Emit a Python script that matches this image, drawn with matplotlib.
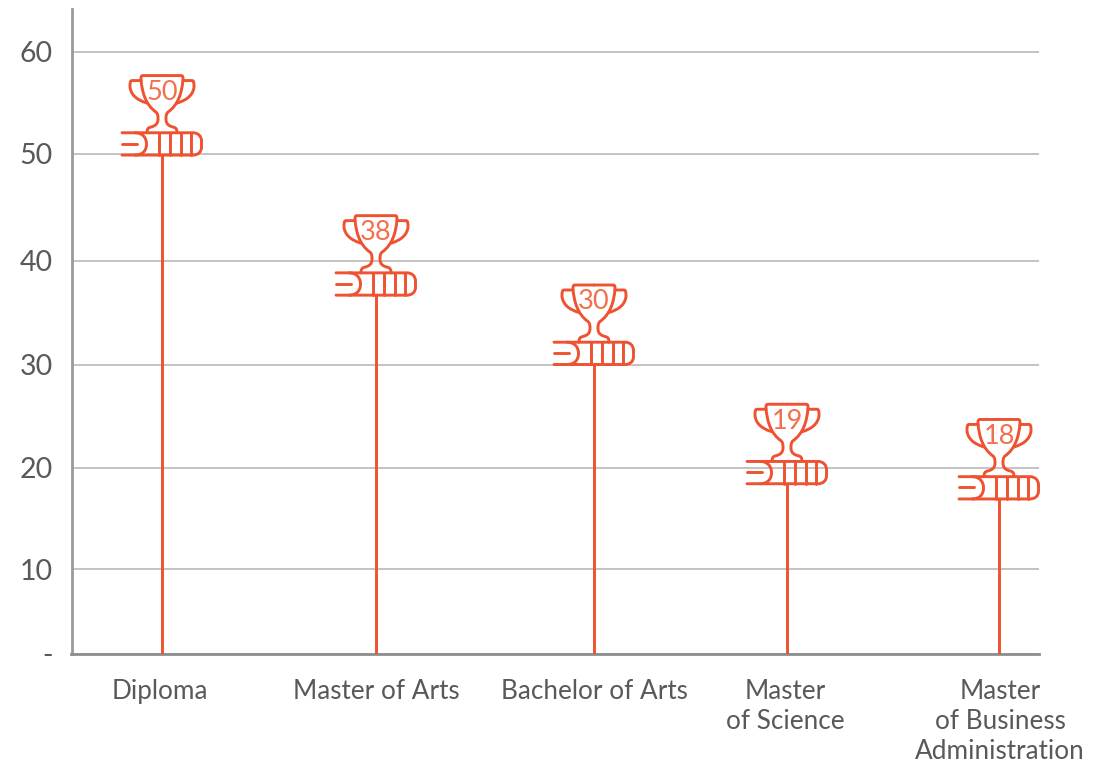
import matplotlib
matplotlib.use("Agg")
import matplotlib.pyplot as plt
from matplotlib.patches import PathPatch
from matplotlib.path import Path
from matplotlib.transforms import Affine2D
import numpy as np

plt.rcParams["font.family"] = ["Lato", "DejaVu Sans"]

categories = ["Diploma", "Master of Arts", "Bachelor of Arts",
              "Master\nof Science", "Master\nof Business\nAdministration"]
trophy_labels = ["50", "38", "30", "19", "18"]
stem_values = [49.9, 36.7, 30.0, 18.4, 16.9]
stem_x = [162, 376, 594, 787, 999]
label_x = [160, 376, 594, 785, 1000]
tick_values = [0, 10, 20, 30, 40, 50, 60]
tick_labels = ["-", "10", "20", "30", "40", "50", "60"]

# the gridlines in the picture are not evenly spaced
scale_values = [0, 10, 20, 30, 40, 50, 60, 64.2]
scale_heights = [0, 85, 186.5, 289.5, 393, 500, 602, 645]

ORANGE = "#ee5230"
TEXT = "#58595b"
W, H = 1106, 763
LEFT, RIGHT, BOTTOM, TOP = 71.5, 1039, 654, 9


def fwd(v):
    return np.interp(v, scale_values, scale_heights)


def inv(h):
    return np.interp(h, scale_heights, scale_values)


def trophy_paths():
    M, L, C = Path.MOVETO, Path.LINETO, Path.CURVE4
    paths = []
    # book, coordinates are pixels from the top of the stem, y down
    paths.append(Path([(-40, -22.3), (31, -22.3), (36, -22.3), (39.5, -19), (39.5, -14),
                       (39.5, -8), (39.5, -3), (36, 0), (31, 0), (-40, 0)],
                      [M, L, C, C, C, L, C, C, C, L]))
    paths.append(Path([(-27, -22.3), (-20, -22.3), (-15.5, -18), (-15.5, -11),
                       (-15.5, -4), (-20, 0), (-27, 0)],
                      [M, C, C, C, C, C, C]))
    paths.append(Path([(-40, -11.5), (-25, -11.5)], [M, L]))
    for dx in (-3, 8, 18.7, 28.7):
        paths.append(Path([(dx, -22.3), (dx, 0)], [M, L]))
    # cup and base, one half and its mirror
    half_cup = [(0, -79.5), (-19, -79.5), (-21, -79.5), (-21, -78), (-21, -76),
                (-20, -62), (-16, -50), (-6, -43),
                (-4, -41), (-4, -39), (-4, -36),
                (-4, -30), (-8, -29), (-11, -28),
                (-14, -27.5), (-15, -26), (-15, -22.3)]
    cup_codes = [M, L, C, C, C, C, C, C, C, C, C, C, C, C, C, C, C]
    half_handle = [(-21, -74.5), (-30, -74.5), (-32, -74.5), (-32, -72), (-32, -68),
                   (-31, -60), (-25, -55), (-15, -52)]
    handle_codes = [M, L, C, C, C, C, C, C]
    for sign in (1, -1):
        paths.append(Path([(sign * x, y) for x, y in half_cup], cup_codes))
        paths.append(Path([(sign * x, y) for x, y in half_handle], handle_codes))
    return paths


def draw_trophy(ax, x, value, label):
    px, py = ax.transData.transform((x, value))
    tr = Affine2D().scale(1, -1).translate(px, py)
    for p in trophy_paths():
        ax.add_patch(PathPatch(p, facecolor="none", edgecolor=ORANGE, linewidth=2.1,
                               transform=tr, clip_on=False, zorder=4,
                               capstyle="round", joinstyle="round"))
    ax.text(px, py + 62.5, label, transform=None, color="#f2704c", fontsize=19.5,
            ha="center", va="center", zorder=5)


fig = plt.figure(figsize=(W / 100, H / 100), dpi=100)
ax = fig.add_axes([LEFT / W, 1 - BOTTOM / H, (RIGHT - LEFT) / W, (BOTTOM - TOP) / H])

ax.set_xlim(LEFT, RIGHT)
ax.set_yscale("function", functions=(fwd, inv))
ax.set_ylim(0, 64.2)

ax.set_yticks(tick_values, tick_labels)
ax.set_xticks(label_x, categories)
ax.minorticks_off()
ax.tick_params(axis="both", length=0, colors=TEXT)
ax.tick_params(axis="y", pad=13.5, labelsize=20.5)
ax.tick_params(axis="x", pad=18, labelsize=18.8)
for lab in ax.get_xticklabels():
    lab.set_linespacing(1.26)

ax.grid(axis="y", color="#b3b3b3", linewidth=1.1)
ax.set_axisbelow(True)

for s in ("top", "right"):
    ax.spines[s].set_visible(False)
ax.spines["left"].set_color("#9a9a9a")
ax.spines["left"].set_linewidth(2)
ax.spines["bottom"].set_color("#8e8e8e")
ax.spines["bottom"].set_linewidth(2)

ax.vlines(stem_x, 0, stem_values, color=ORANGE, linewidth=2.1, zorder=3)

for x, v, lab in zip(stem_x, stem_values, trophy_labels):
    draw_trophy(ax, x, v, lab)

fig.savefig("out.png", dpi=100)
plt.close(fig)
